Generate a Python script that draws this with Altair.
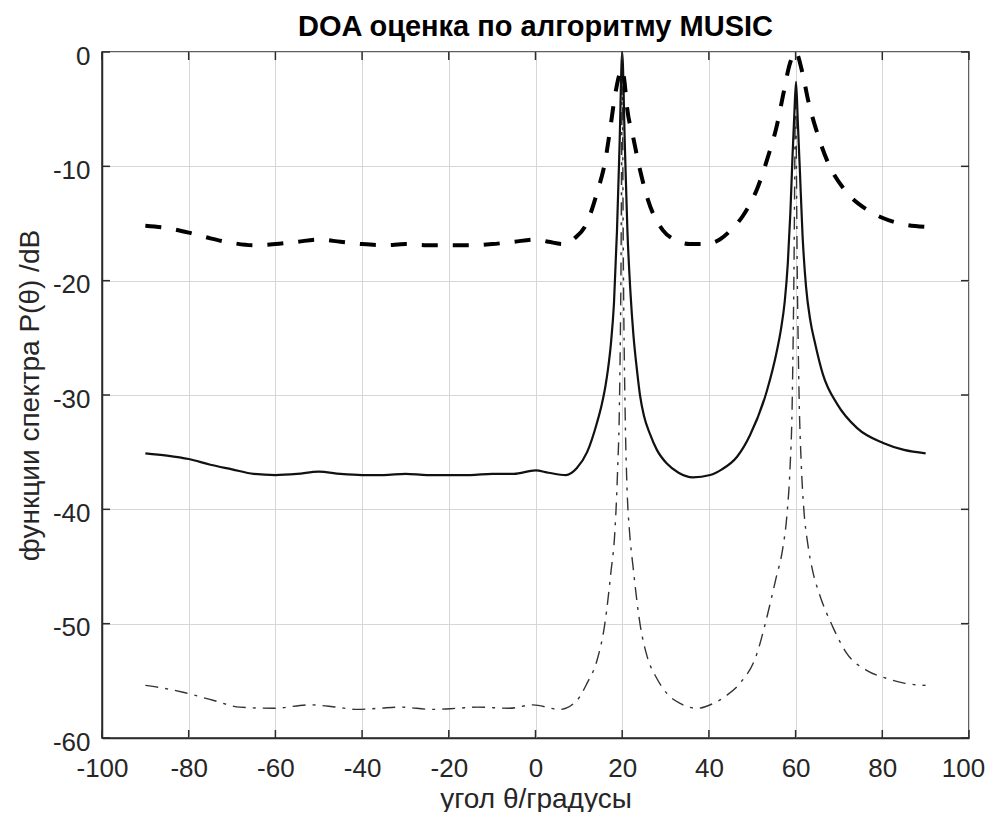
import altair as alt
import pandas as pd

title_text = "DOA оценка по алгоритму MUSIC"
x_title = "угол θ/градусы"
y_title = "функции спектра P(θ) /dB"

x_ticks = [-100, -80, -60, -40, -20, 0, 20, 40, 60, 80, 100]
y_ticks = [-60, -50, -40, -30, -20, -10, 0]

dashed_x = [-90, -85, -80, -75, -70, -65, -60, -55, -50, -45, -40, -35, -30, -25, -20, -15, -10, -5, 0, 3,
            6.5, 9, 11.9, 14.2, 16.1, 17.2, 18.3, 19.5, 20, 20.5, 21.1, 22.5, 24.1, 26, 29.4, 32, 35.6, 39, 42.5, 45,
            47.9, 51.3, 53.6, 55.7, 57.1, 58.7, 60, 61.5, 63, 65, 67.5, 71.4, 76.5, 80, 84, 90]
dashed_y = [-15.2, -15.4, -15.8, -16.3, -16.7, -16.9, -16.8, -16.6, -16.4, -16.6, -16.8, -16.9, -16.8, -16.9, -16.9, -16.9, -16.8, -16.6, -16.4, -16.6,
            -16.8, -16.3, -14.9, -12.3, -9.5, -6.8, -3.9, -1.8, -1.5, -2.5, -4.8, -7.4, -10.3, -13.0, -15.6, -16.4, -16.8, -16.8, -16.4, -15.6,
            -14.3, -11.8, -9.2, -6.4, -3.8, -1.0, 0.0, -1.7, -4.4, -7.1, -9.7, -12.1, -13.8, -14.5, -15.0, -15.3]

solid_x = [-90, -85, -80, -75, -70, -65, -60, -55, -50, -45, -40, -35, -30, -25, -20, -15, -10, -5,
           0, 3, 7, 9.5, 11.9, 14.2, 15.3, 16.1, 16.7, 17.4, 18.1, 18.8, 19.4, 20, 20.6, 21.2, 21.9, 22.6, 23.4, 24.1, 25, 26.4, 28, 30.3,
           33, 36.3, 40.3, 43, 46.5, 49.5, 53.4, 55.7, 56.6, 57.5, 58.2, 58.8, 59.3, 59.7, 60.1, 60.5, 61, 61.6, 62.4, 63.4, 64.5, 66.3, 69.6, 74.2, 80.2, 85, 90]
solid_y = [-35.1, -35.3, -35.6, -36.1, -36.5, -36.9, -37.0, -36.9, -36.7, -36.9, -37.0, -37.0, -36.9, -37.0, -37.0, -37.0, -36.9, -36.9,
           -36.6, -36.8, -37.0, -36.4, -35.0, -32.4, -30.8, -29.3, -27.8, -25.5, -22.0, -15.6, -8.0, 0.0, -8.0, -15.6, -21.0, -24.8, -27.8, -30.0, -31.8, -33.4, -34.8, -36.0,
           -36.8, -37.2, -37.0, -36.5, -35.4, -33.5, -29.6, -26.1, -24.3, -21.8, -18.5, -14.0, -9.0, -5.5, -2.6, -6.0, -10.5, -16.0, -20.5, -23.5, -25.5, -28.2, -30.8, -32.9, -34.2, -34.8, -35.1]

dashdot_x = [-90, -85, -81.3, -74.4, -68.2, -60.5, -52, -46, -41.2, -36, -31.3, -23.6, -18, -13.5, -6, -0.6, 5.6, 9.6, 11.9, 14.2,
             16, 17.4, 18.3, 18.9, 19.4, 19.7, 20, 20.3, 20.7, 21.1, 21.7, 22.5, 24.1, 25.7, 28, 30.3, 33.5, 37.3, 40.9, 44, 47.2, 51.1,
             53, 55.5, 57, 58, 58.7, 59.2, 59.6, 60, 60.4, 60.8, 61.3, 61.9, 62.8, 64, 65.4, 68.6, 71.8, 76.5, 81.1, 85, 90]
dashdot_y = [-55.4, -55.7, -56.0, -56.7, -57.3, -57.4, -57.1, -57.3, -57.5, -57.4, -57.3, -57.5, -57.4, -57.3, -57.4, -57.1, -57.5, -56.7, -55.2, -53.2,
             -50.0, -45.5, -42.0, -37.0, -30.0, -20.0, -3.0, -20.0, -32.0, -38.0, -42.0, -45.0, -50.0, -52.8, -54.8, -56.1, -57.0, -57.4, -57.0, -56.3, -55.2, -52.6,
             -50.0, -46.0, -43.5, -40.5, -36.5, -31.0, -20.0, -4.0, -20.0, -30.0, -36.0, -40.0, -43.0, -45.5, -47.3, -50.3, -52.6, -54.1, -54.8, -55.2, -55.4]

W, H = 867, 686
FONT = "Liberation Sans, Arial, sans-serif"
AXC = "#2b2b2b"

xscale = alt.Scale(domain=[-100, 100], nice=False, zero=False)
yscale = alt.Scale(domain=[-60, 0], nice=False, zero=False)
xaxis = alt.Axis(values=x_ticks, title=x_title, grid=True, tickSize=0, labelPadding=17,
                 labelExpr="'' + datum.value", titleY=69, titleBaseline="alphabetic",
                 labelOffset={"expr": "datum.value == 100 ? -6 : 0"},
                 labelFlush=False, labelOverlap=False, labelBound=False)
yaxis = alt.Axis(values=y_ticks, title=y_title, grid=True, tickSize=0, labelPadding=12, labelOffset=4,
                 labelExpr="'' + datum.value", titleX=-64, titleBaseline="alphabetic",
                 labelFlush=False, labelOverlap=False, labelBound=False)

X = alt.X("x:Q", scale=xscale, axis=xaxis)
Y = alt.Y("y:Q", scale=yscale, axis=yaxis)

df_dash = pd.DataFrame({"x": dashed_x, "y": dashed_y})
df_solid = pd.DataFrame({"x": solid_x, "y": solid_y})
df_dd = pd.DataFrame({"x": dashdot_x, "y": dashdot_y})
df_xt = pd.DataFrame({"x": x_ticks})
df_yt = pd.DataFrame({"y": y_ticks})

dd_line = alt.Chart(df_dd).mark_line(color="#333333", strokeWidth=1.4, strokeDash=[13, 7, 3, 7],
                                     interpolate="monotone").encode(x=X, y=Y)
solid_line = alt.Chart(df_solid).mark_line(color="#111111", strokeWidth=2.2,
                                           interpolate="monotone").encode(x=X, y=Y)
dash_line = alt.Chart(df_dash).mark_line(color="#000000", strokeWidth=4, strokeDash=[16, 15],
                                         interpolate="monotone").encode(x=X, y=Y)

tick_len = 8
bottom_ticks = alt.Chart(df_xt).mark_rule(color=AXC, strokeWidth=1.5).encode(
    x=X, y=alt.value(H), y2=alt.value(H - tick_len))
top_ticks = alt.Chart(df_xt).mark_rule(color=AXC, strokeWidth=1.5).encode(
    x=X, y=alt.value(0), y2=alt.value(tick_len))
left_ticks = alt.Chart(df_yt).mark_rule(color=AXC, strokeWidth=1.5).encode(
    y=Y, x=alt.value(0), x2=alt.value(tick_len))
right_ticks = alt.Chart(df_yt).mark_rule(color=AXC, strokeWidth=1.5).encode(
    y=Y, x=alt.value(W), x2=alt.value(W - tick_len))

chart = alt.layer(dd_line, solid_line, dash_line, bottom_ticks, top_ticks, left_ticks, right_ticks).properties(
    width=W, height=H,
    title=alt.TitleParams(text=title_text, font=FONT, fontSize=29, fontWeight="bold", color="#000000",
                          anchor="middle", frame="group", offset=8, baseline="alphabetic", dy=30),
    autosize=alt.AutoSizeParams(type="none"),
    padding={"left": 94, "top": 44, "right": 17, "bottom": 74},
).configure_view(
    stroke=AXC, strokeWidth=1.5
).configure_axis(
    domainColor=AXC, domainWidth=1.5, gridColor="#d6d6d6", gridWidth=1,
    labelFont=FONT, labelFontSize=26, labelColor="#262626",
    titleFont=FONT, titleFontSize=28, titleFontWeight="normal", titleColor="#262626"
)

chart.save("out.html", embed_options={"renderer": "svg", "actions": False})
